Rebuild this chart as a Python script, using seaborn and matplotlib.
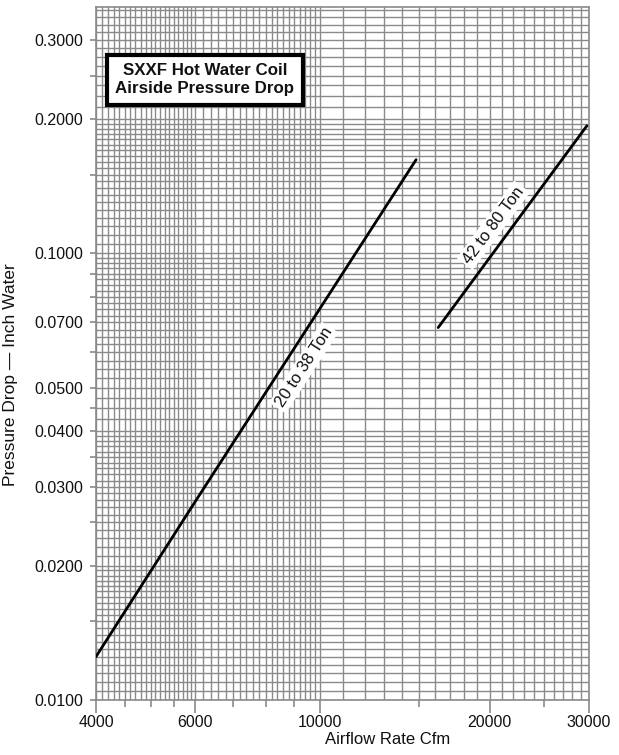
import numpy as np
import pandas as pd
import seaborn as sns
import matplotlib.pyplot as plt
from matplotlib.ticker import FixedLocator, NullFormatter

# curve end points (airflow cfm, pressure drop in. wg)
small_cfm = [4000, 6000, 14800]
small_dp = [0.0125, 0.0278, 0.162]
large_cfm = [16200, 29750]
large_dp = [0.0682, 0.193]

x_ticks = [4000, 6000, 10000, 20000, 30000]
y_ticks = [0.01, 0.02, 0.03, 0.04, 0.05, 0.07, 0.1, 0.2, 0.3]
x_minor = [4500, 5000, 5500, 7000, 8000, 9000, 15000, 25000]
y_minor = [0.015, 0.025, 0.035, 0.045, 0.06, 0.08, 0.09, 0.15, 0.25]

df = pd.concat([
    pd.DataFrame({"cfm": small_cfm, "dp": small_dp, "size": "20 to 38 Ton"}),
    pd.DataFrame({"cfm": large_cfm, "dp": large_dp, "size": "42 to 80 Ton"}),
])

sns.set_style("white")
plt.rcParams["font.family"] = ["Liberation Sans", "DejaVu Sans"]
ink = "#111111"
grey = "#8a8a8a"

fig = plt.figure(figsize=(6.19, 7.55), dpi=100)
ax = fig.add_axes([0.155, 0.0728, 0.7965, 0.918])
ax.set_xscale("log")
ax.set_yscale("log")
ax.set_xlim(4000, 30000)
ax.set_ylim(0.01, 0.356)

# chart-paper grid
gx = np.concatenate([np.arange(4000, 6000, 100), np.arange(6000, 10000, 200),
                     np.arange(10000, 30001, 1000)])
gy = np.concatenate([np.arange(0.01, 0.02, 0.0005), np.arange(0.02, 0.04, 0.001),
                     np.arange(0.04, 0.1, 0.0025), np.arange(0.1, 0.2, 0.005),
                     np.arange(0.2, 0.36, 0.0125)])
for v in gx:
    ax.axvline(v, color=grey, lw=1.0, zorder=0)
for v in gy:
    ax.axhline(v, color=grey, lw=1.0, zorder=0)

sns.lineplot(data=df, x="cfm", y="dp", hue="size", palette=["black", "black"],
             lw=2.0, legend=False, ax=ax, zorder=3)

ax.xaxis.set_major_locator(FixedLocator(x_ticks))
ax.xaxis.set_minor_locator(FixedLocator(x_minor))
ax.yaxis.set_major_locator(FixedLocator(y_ticks))
ax.yaxis.set_minor_locator(FixedLocator(y_minor))
ax.set_xticklabels([str(v) for v in x_ticks])
ax.set_yticklabels([f"{v:.4f}" for v in y_ticks])
ax.xaxis.set_minor_formatter(NullFormatter())
ax.yaxis.set_minor_formatter(NullFormatter())

ax.tick_params(axis="x", which="major", length=9, width=1.2, color=grey,
               direction="out", pad=2, labelsize=11.5, labelcolor=ink)
ax.tick_params(axis="x", which="minor", length=5, width=1.2, color=grey, direction="out")
ax.tick_params(axis="y", which="major", length=4, width=1.2, color=grey,
               direction="out", pad=5, labelsize=11.5, labelcolor=ink)
ax.tick_params(axis="y", which="minor", length=4, width=1.2, color=grey, direction="out")
ax.tick_params(bottom=True, left=True, which="both")

for s in ax.spines.values():
    s.set_color(grey)
    s.set_linewidth(1.2)

ax.set_xlabel("Airflow Rate Cfm", fontsize=12, color=ink)
ax.set_ylabel("Pressure Drop \u2014 Inch Water", fontsize=12.5, color=ink)
ax.xaxis.set_label_coords(0.592, -0.046)
ax.yaxis.set_label_coords(-0.158, 0.469)

ax.text(0.221, 0.895, "SXXF Hot Water Coil\nAirside Pressure Drop",
        transform=ax.transAxes, ha="center", va="center", fontsize=12.2,
        fontweight="bold", color=ink, linespacing=1.25, zorder=5,
        bbox=dict(boxstyle="square,pad=0.5", fc="white", ec="black", lw=3))

ax.text(9350, 0.0555, "20 to 38 Ton", rotation=57, ha="center", va="center",
        fontsize=12, color=ink, zorder=4,
        bbox=dict(boxstyle="square,pad=0.15", fc="white", ec="none"))
ax.text(20300, 0.1156, "42 to 80 Ton", rotation=53.5, ha="center", va="center",
        fontsize=12, color=ink, zorder=4,
        bbox=dict(boxstyle="square,pad=0.15", fc="white", ec="none"))

fig.savefig("out.png", dpi=100)
